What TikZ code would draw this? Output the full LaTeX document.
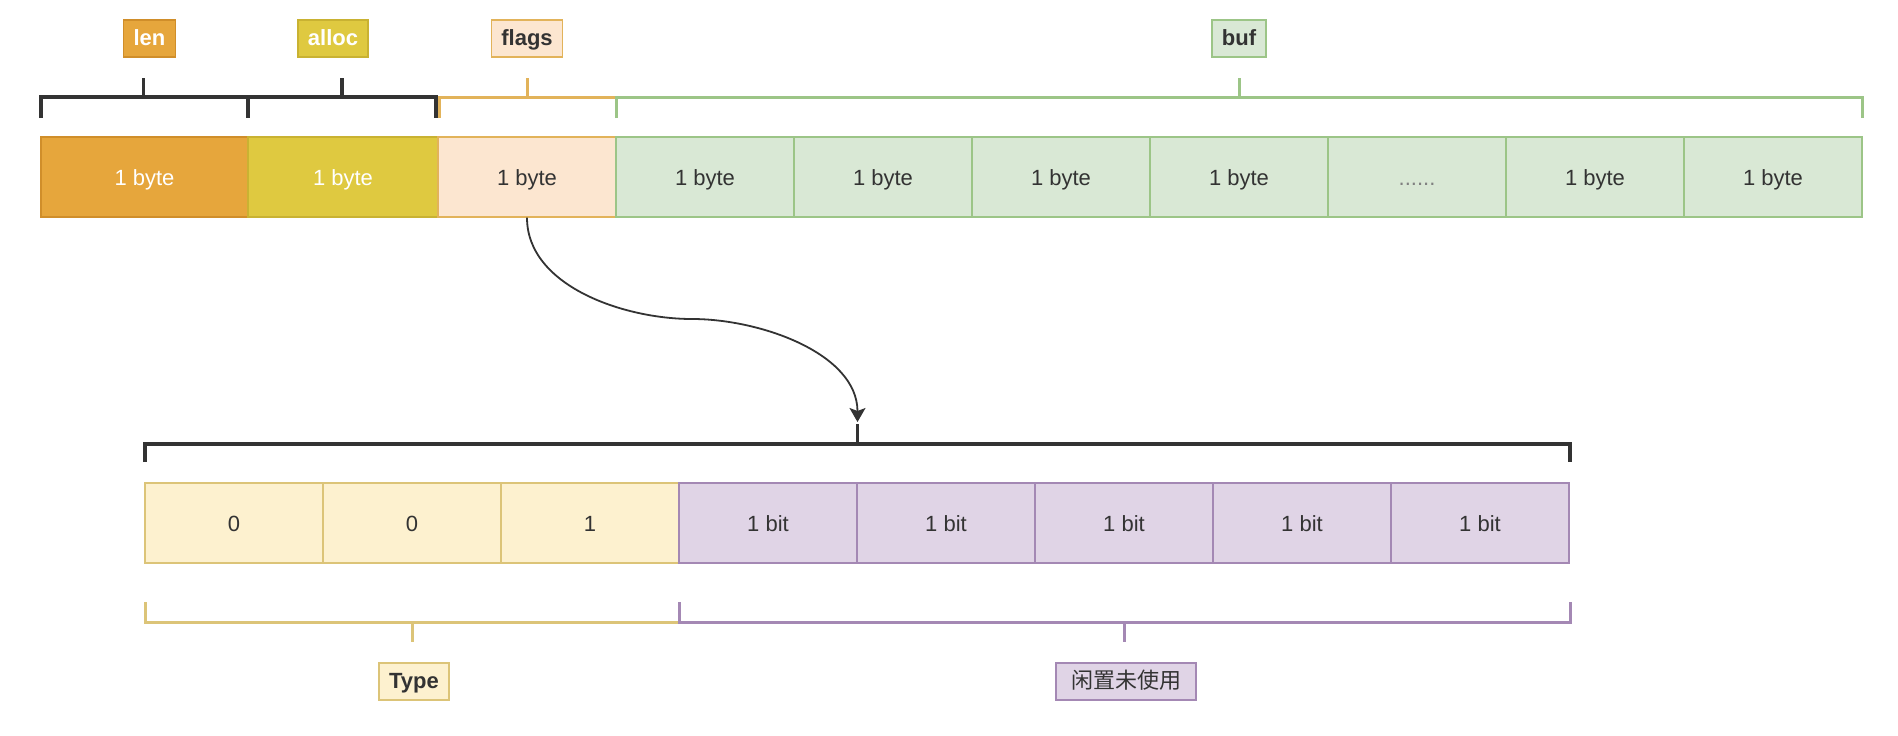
\documentclass[tikz,border=0pt]{standalone}
\usepackage{fontspec}
\setmainfont{Liberation Sans}
\newfontfamily\cjk{Noto Sans CJK SC}
\usetikzlibrary{arrows.meta}
\definecolor{lenfill}{HTML}{E6A63C}
\definecolor{lenline}{HTML}{D08E2A}
\definecolor{allocfill}{HTML}{DFC940}
\definecolor{allocline}{HTML}{C9B232}
\definecolor{flagfill}{HTML}{FCE6D0}
\definecolor{flagline}{HTML}{E2B35A}
\definecolor{buffill}{HTML}{D9E8D5}
\definecolor{bufline}{HTML}{9CC587}
\definecolor{typefill}{HTML}{FDF1CF}
\definecolor{typeline}{HTML}{DCC478}
\definecolor{freefill}{HTML}{E0D4E6}
\definecolor{freeline}{HTML}{A488B4}
\definecolor{txt}{HTML}{333333}
\definecolor{brk}{HTML}{333333}
\begin{document}
\begin{tikzpicture}[x=1pt,y=-1pt,
  cell/.style={draw, line width=1.3pt, minimum width=178pt, minimum height=80pt, inner sep=0pt,
    text height=16pt, text depth=0pt,
    text=txt, font=\fontsize{22}{26}\selectfont},
  tag/.style={draw, line width=1.4pt, minimum height=37pt, inner xsep=10pt, inner ysep=0pt,
    text height=16pt, text depth=3pt,
    text=txt, font=\fontsize{22}{26}\selectfont\bfseries},
  brack/.style={line width=3pt, line cap=butt, line join=miter},
  blackbrack/.style={brack, draw=brk, line width=3.8pt}
]
\useasboundingbox (0,0) rectangle (1898,736);

% top row
\node[cell, minimum width=207pt, fill=lenfill, draw=lenline, text=white] (c1) at (144.5,177) {1 byte};
\node[cell, minimum width=190pt, fill=allocfill, draw=allocline, text=white] (c2) at (343,177) {1 byte};
\node[cell, fill=flagfill, draw=flagline] (c3) at (527,177) {1 byte};
\node[cell, fill=buffill, draw=bufline] (g1) at (705,177) {1 byte};
\node[cell, fill=buffill, draw=bufline] (g2) at (883,177) {1 byte};
\node[cell, fill=buffill, draw=bufline] (g3) at (1061,177) {1 byte};
\node[cell, fill=buffill, draw=bufline] (g4) at (1239,177) {1 byte};
\node[cell, fill=buffill, draw=bufline, text=gray] (g5) at (1417,177) {......};
\node[cell, fill=buffill, draw=bufline] (g6) at (1595,177) {1 byte};
\node[cell, fill=buffill, draw=bufline] (g7) at (1773,177) {1 byte};

% top labels
\node[tag, fill=lenfill, draw=lenline, text=white] (tlen) at (149.5,38.5) {len};
\node[tag, fill=allocfill, draw=allocline, text=white] (talloc) at (333,38.5) {alloc};
\node[tag, fill=flagfill, draw=flagline] (tflags) at (527,38.5) {flags};
\node[tag, fill=buffill, draw=bufline] (tbuf) at (1239,38.5) {buf};

% top brackets
\draw[blackbrack] (41,118) -- (41,97) -- (248,97) -- (248,118);
\draw[blackbrack] (143.5,97) -- (143.5,78);
\draw[blackbrack] (248,97) -- (436,97) -- (436,118);
\draw[blackbrack] (342,97) -- (342,78);
\draw[brack, draw=flagline] (439,118) -- (439,97) -- (616,97);
\draw[brack, draw=flagline] (527,97) -- (527,78);
\draw[brack, draw=bufline] (616,118) -- (616,97) -- (1862,97) -- (1862,118);
\draw[brack, draw=bufline] (1239,97) -- (1239,78);

% bottom black bracket
\draw[blackbrack] (145,462) -- (145,444) -- (1570,444) -- (1570,462);
\draw[blackbrack] (857.5,444) -- (857.5,424);
\coordinate (tip) at (857.5,422);

% arrow
\draw[line width=1.8pt, draw=brk, -{Stealth[length=14pt,width=16pt,inset=3pt]}]
  (c3.south) to[out=-90,in=180, looseness=0.9] (692,319) to[out=0,in=90, looseness=0.9] (tip);

% bottom row
\node[cell, fill=typefill, draw=typeline] (b1) at (234,523) {0};
\node[cell, fill=typefill, draw=typeline] (b2) at (412,523) {0};
\node[cell, fill=typefill, draw=typeline] (b3) at (590,523) {1};
\node[cell, fill=freefill, draw=freeline] (b4) at (768,523) {1 bit};
\node[cell, fill=freefill, draw=freeline] (b5) at (946,523) {1 bit};
\node[cell, fill=freefill, draw=freeline] (b6) at (1124,523) {1 bit};
\node[cell, fill=freefill, draw=freeline] (b7) at (1302,523) {1 bit};
\node[cell, fill=freefill, draw=freeline] (b8) at (1480,523) {1 bit};

% bottom brackets
\draw[brack, draw=typeline] (145,602) -- (145,622) -- (679,622);
\draw[brack, draw=typeline] (412,622) -- (412,642);
\draw[brack, draw=freeline] (679,602) -- (679,622) -- (1570,622) -- (1570,602);
\draw[brack, draw=freeline] (1124.5,622) -- (1124.5,642);

% bottom labels
\node[tag, fill=typefill, draw=typeline] (ttype) at (414,681.5) {Type};
\node[tag, minimum width=140pt, fill=freefill, draw=freeline, font=\fontsize{22}{26}\cjk] (tfree) at (1126,681.5) {闲置未使用};
\end{tikzpicture}
\end{document}
